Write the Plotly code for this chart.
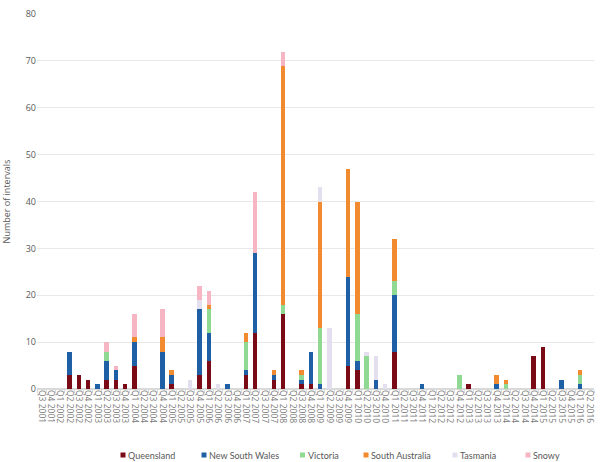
import plotly.graph_objects as go

quarters = []
for y in range(2001, 2017):
    for q in range(1, 5):
        if (y == 2001 and q < 3) or (y == 2016 and q > 2):
            continue
        quarters.append(f"Q{q} {y}")

qld_vals = {"Q2 2002": 3, "Q3 2002": 3, "Q4 2002": 2, "Q2 2003": 2, "Q3 2003": 2, "Q4 2003": 1,
            "Q1 2004": 5, "Q1 2005": 1, "Q4 2005": 3, "Q1 2006": 6, "Q1 2007": 3, "Q2 2007": 12,
            "Q4 2007": 2, "Q1 2008": 16, "Q3 2008": 1, "Q4 2008": 1, "Q4 2009": 5, "Q1 2010": 4,
            "Q1 2011": 8, "Q1 2013": 1, "Q4 2014": 7, "Q1 2015": 9}
nsw_vals = {"Q2 2002": 5, "Q1 2003": 1, "Q2 2003": 4, "Q3 2003": 2, "Q1 2004": 5, "Q4 2004": 8,
            "Q1 2005": 2, "Q4 2005": 14, "Q1 2006": 6, "Q3 2006": 1, "Q1 2007": 1, "Q2 2007": 17,
            "Q4 2007": 1, "Q3 2008": 1, "Q4 2008": 7, "Q1 2009": 1, "Q4 2009": 19, "Q1 2010": 2,
            "Q3 2010": 2, "Q1 2011": 12, "Q4 2011": 1, "Q4 2013": 1, "Q3 2015": 2, "Q1 2016": 1}
vic_vals = {"Q2 2003": 2, "Q1 2006": 5, "Q1 2007": 6, "Q1 2008": 2, "Q3 2008": 1, "Q1 2009": 12,
            "Q1 2010": 10, "Q2 2010": 7, "Q1 2011": 3, "Q4 2012": 3, "Q1 2014": 1, "Q1 2016": 2}
sa_vals = {"Q1 2004": 1, "Q4 2004": 3, "Q1 2005": 1, "Q1 2006": 1, "Q1 2007": 2, "Q4 2007": 1,
           "Q1 2008": 51, "Q3 2008": 1, "Q1 2009": 27, "Q4 2009": 23, "Q1 2010": 24, "Q1 2011": 9,
           "Q4 2013": 2, "Q1 2014": 1, "Q1 2016": 1}
tas_vals = {"Q3 2005": 2, "Q4 2005": 2, "Q2 2006": 1, "Q1 2009": 3, "Q2 2009": 13, "Q2 2010": 1,
            "Q3 2010": 5, "Q4 2010": 1}
snowy_vals = {"Q2 2003": 2, "Q3 2003": 1, "Q1 2004": 5, "Q4 2004": 6, "Q4 2005": 3, "Q1 2006": 3,
              "Q2 2007": 13, "Q1 2008": 3}

queensland = [qld_vals.get(q) for q in quarters]
nsw = [nsw_vals.get(q) for q in quarters]
victoria = [vic_vals.get(q) for q in quarters]
south_australia = [sa_vals.get(q) for q in quarters]
tasmania = [tas_vals.get(q) for q in quarters]
snowy = [snowy_vals.get(q) for q in quarters]

names = ["Queensland", "New South Wales", "Victoria", "South Australia", "Tasmania", "Snowy"]
colors = ["#7B0A17", "#1F5FA6", "#8FD993", "#F28A30", "#E3DFEE", "#F5B5C3"]
values = [queensland, nsw, victoria, south_australia, tasmania, snowy]

fig = go.Figure()
for name, vals, col in zip(names, values, colors):
    fig.add_trace(go.Bar(x=quarters, y=vals, name=name, showlegend=False,
                         marker=dict(color=col, line=dict(width=0))))

# custom legend (marker squares + real text), positioned in pixels
L, W, B, H = 37, 557, 389, 375
legend_px = [123, 204, 302.5, 366, 455, 528]
legend_py = 455
for name, col, px in zip(names, colors, legend_px):
    fig.add_shape(type="rect", xref="paper", yref="paper",
                  x0=(px - 2.5 - L) / W, x1=(px + 2.5 - L) / W,
                  y0=(B - legend_py - 2.5) / H, y1=(B - legend_py + 2.5) / H,
                  fillcolor=col, line=dict(width=0))
    fig.add_annotation(xref="paper", yref="paper", x=(px + 3 - L) / W, y=(B - legend_py) / H,
                       text=name, showarrow=False, xanchor="left", yanchor="middle",
                       font=dict(family="Lato, sans-serif", size=9, color="#595959"))

font = "Open Sans, Segoe UI, sans-serif"
fig.update_layout(
    barmode="stack",
    bargap=0.52,
    width=600, height=462,
    margin=dict(l=37, r=6, t=14, b=73),
    paper_bgcolor="white", plot_bgcolor="white",
    font=dict(family=font, size=9, color="#595959"),
    showlegend=False,
    xaxis=dict(type="category", tickangle=90, tickmode="linear", dtick=1,
               tickfont=dict(size=8.5, color="#7a7a7a"),
               showgrid=False, showline=False, ticks="outside", ticklen=3,
               tickcolor="#d9d9d9", tickson="boundaries", automargin=False),
    yaxis=dict(range=[0, 80], dtick=10, showgrid=True, gridcolor="#e8e8e8", gridwidth=1,
               zeroline=True, zerolinecolor="#d9d9d9", showline=False,
               tickfont=dict(size=9, color="#595959"), ticks="", automargin=False,
               title=dict(text="Number of intervals", font=dict(size=9, color="#595959"), standoff=18)),
)
fig.write_html("out.html", config={"displayModeBar": False},
               post_script="document.body.style.margin='0';")
